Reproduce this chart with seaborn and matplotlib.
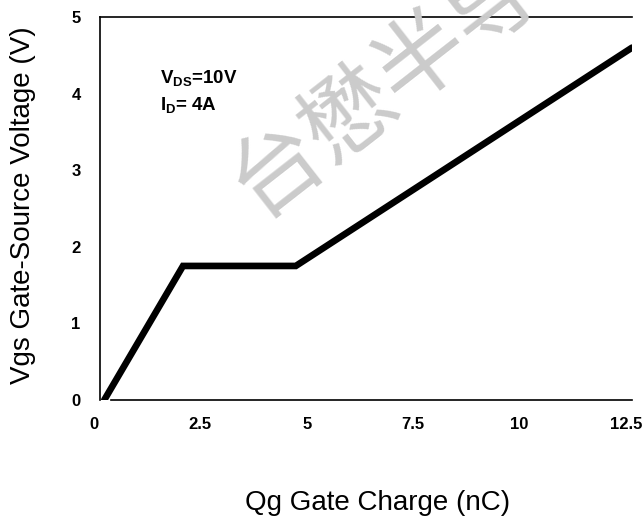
import matplotlib
matplotlib.use("Agg")
import matplotlib.pyplot as plt
import matplotlib.transforms as mtransforms
import seaborn as sns
import pandas as pd

# Data
qg_nc = [0.1, 1.95, 4.6, 12.5]
vgs_v = [0.0, 1.75, 1.75, 4.6]
x_ticks = [0, 2.5, 5, 7.5, 10, 12.5]
x_tick_labels = ["0", "2.5", "5", "7.5", "10", "12.5"]
y_ticks = [0, 1, 2, 3, 4, 5]
y_tick_labels = ["0", "1", "2", "3", "4", "5"]
x_label = "Qg Gate Charge (nC)"
y_label = "Vgs Gate-Source Voltage (V)"
note_lines = [r"$\mathbf{V_{DS}}$=10V", r"$\mathbf{I_{D}}$= 4A"]
watermark = "台懋半导体"

sns.set_theme(style="white")
plt.rcParams["font.family"] = ["Liberation Sans", "DejaVu Sans"]
plt.rcParams["mathtext.fontset"] = "custom"
plt.rcParams["mathtext.bf"] = "Liberation Sans:bold"
plt.rcParams["mathtext.rm"] = "Liberation Sans"

df = pd.DataFrame({"qg": qg_nc, "vgs": vgs_v})

fig = plt.figure(figsize=(6.44, 5.22), dpi=100)
ax = fig.add_axes([100 / 644, 1 - 400 / 522, 532 / 644, 383 / 522])

sns.lineplot(data=df, x="qg", y="vgs", ax=ax, color="black", linewidth=4.8,
             solid_capstyle="round", solid_joinstyle="miter", sort=False)

ax.set_xlim(0, 12.5)
ax.set_ylim(0, 5)
ax.set_xticks(x_ticks)
ax.set_xticklabels(x_tick_labels)
ax.set_yticks(y_ticks)
ax.set_yticklabels(y_tick_labels)
ax.set_xlabel("")
ax.set_ylabel("")

ax.tick_params(axis="both", direction="in", length=4, width=1, color="black")
ax.tick_params(axis="x", pad=12)
ax.tick_params(axis="y", pad=14)

shift = mtransforms.ScaledTranslation(-6 / 100, 0, fig.dpi_scale_trans)
for lab in ax.get_xticklabels():
    lab.set_transform(lab.get_transform() + shift)
for lab in ax.get_xticklabels() + ax.get_yticklabels():
    lab.set_fontweight("bold")
    lab.set_fontsize(12)
    lab.set_color("black")

ax.spines["right"].set_visible(False)
for s in ["left", "top", "bottom"]:
    ax.spines[s].set_color("black")
    ax.spines[s].set_linewidth(1.2)
ax.spines["bottom"].set_bounds(0.25, 12.5)

ax.text(1.42, 4.14, note_lines[0], fontsize=13.5, fontweight="bold", color="black",
        va="baseline", ha="left")
ax.text(1.42, 3.79, note_lines[1], fontsize=13.5, fontweight="bold", color="black",
        va="baseline", ha="left")

fig.text(378 / 644, 1 - 503 / 522, x_label, fontsize=20, ha="center", va="center", color="black")
fig.text(23 / 644, 1 - 205 / 522, y_label, fontsize=20, ha="center", va="center",
         rotation=90, color="black")

fig.text(422 / 644, 1 - 56 / 522, watermark, fontsize=66, color="#cbcbcb",
         rotation=38, ha="center", va="center", rotation_mode="anchor",
         family=["Noto Sans CJK SC", "DejaVu Sans"], zorder=5)

fig.savefig("out.png", dpi=100, facecolor="white")
